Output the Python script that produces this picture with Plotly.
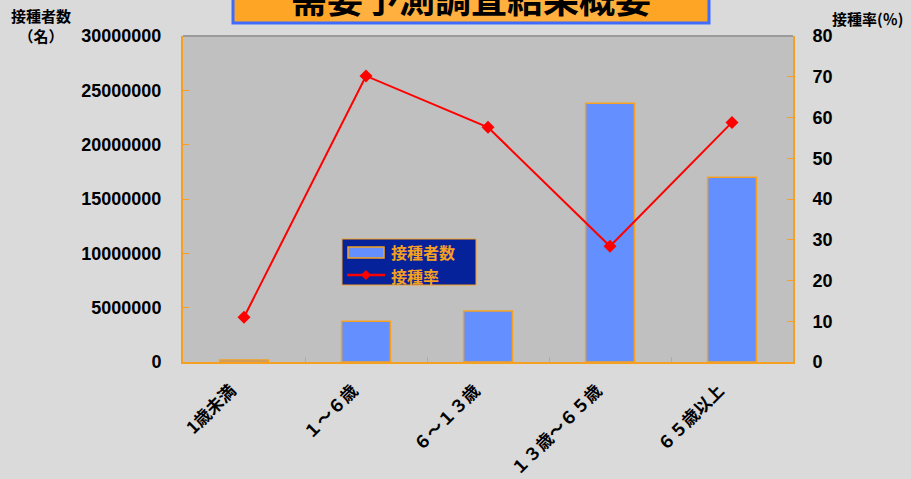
import plotly.graph_objects as go

# Survey summary: number of vaccinated persons by age group and vaccination rate
categories = ["1歳未満", "１～６歳", "６～１３歳", "１３歳～６５歳", "６５歳以上"]
persons = [180000, 3750000, 4700000, 23800000, 17000000]
rate = [11.0, 70.2, 57.6, 28.4, 58.8]

left_ticks = [0, 5000000, 10000000, 15000000, 20000000, 25000000, 30000000]
right_ticks = [0, 10, 20, 30, 40, 50, 60, 70, 80]

JP = "Noto Sans CJK JP"
NUM = "Liberation Sans"
ORANGE = "#F5A020"
BAR_BLUE = "#6490FF"
LINE_RED = "#FF0000"

# plotting-area geometry in pixels (used to place the overlay decorations)
PX_L, PX_R, PX_T, PX_B = 183, 793, 36, 362
W, H = PX_R - PX_L, PX_B - PX_T


def px(x):
    return (x - PX_L) / W


def py(y):
    return (PX_B - y) / H


fig = go.Figure()
fig.add_trace(go.Bar(
    x=categories, y=persons, name="接種者数",
    marker=dict(color=BAR_BLUE, line=dict(color=ORANGE, width=1.5)),
    yaxis="y",
))
fig.add_trace(go.Scatter(
    x=categories, y=rate, name="接種率", mode="lines+markers",
    line=dict(color=LINE_RED, width=2),
    marker=dict(symbol="diamond", size=10, color=LINE_RED),
    yaxis="y2",
))

fig.update_layout(
    width=911, height=479,
    margin=dict(l=PX_L, r=911 - PX_R, t=PX_T, b=479 - PX_B, autoexpand=False),
    paper_bgcolor="#DADADA",
    plot_bgcolor="#C0C0C0",
    bargap=0.6,
    font=dict(family=JP, color="#000000", size=14),
    showlegend=False,
    xaxis=dict(
        type="category", tickangle=-45, showgrid=False, automargin=False,
        showline=True, linecolor=ORANGE, linewidth=2,
        ticks="inside", tickson="boundaries", ticklen=5, tickcolor=ORANGE,
        tickfont=dict(family=JP, size=17, weight="bold"),
        ticklabelshift=-13, ticklabelstandoff=10,
    ),
    yaxis=dict(
        range=[0, 30000000], tickvals=left_ticks, automargin=False,
        ticktext=[str(v) for v in left_ticks],
        showgrid=False, zeroline=False,
        showline=True, linecolor=ORANGE, linewidth=2,
        ticks="inside", ticklen=6, tickcolor=ORANGE,
        tickfont=dict(family=NUM, size=18, weight="bold"),
        ticklabelstandoff=16,
    ),
    yaxis2=dict(
        range=[0, 80], tickvals=right_ticks, overlaying="y", side="right",
        automargin=False, showgrid=False, zeroline=False,
        showline=True, linecolor=ORANGE, linewidth=2,
        ticks="inside", ticklen=6, tickcolor=ORANGE,
        tickfont=dict(family=NUM, size=18, weight="bold"),
        ticklabelstandoff=14,
    ),
)

# top border of the plotting area
fig.add_shape(type="line", xref="paper", yref="paper", x0=0, x1=1, y0=1, y1=1,
              line=dict(color="#9A9A9A", width=2))

# title banner
fig.add_shape(type="rect", xref="paper", yref="paper",
              x0=px(233), x1=px(709), y0=py(23), y1=py(-30),
              fillcolor="#FFA526", line=dict(color="#3F6CFF", width=3), layer="above")
fig.add_shape(type="rect", xref="paper", yref="paper",
              x0=px(330), x1=px(620), y0=py(21), y1=py(-30),
              fillcolor="#FFB850", line=dict(width=0), opacity=0.6, layer="above")
fig.add_annotation(text="需要予測調査結果概要", xref="paper", yref="paper",
                   x=px(471), y=py(-3), xanchor="center", yanchor="middle",
                   showarrow=False,
                   font=dict(family=JP, size=36, color="#000000", weight="bold"))

# legend panel
fig.add_shape(type="rect", xref="paper", yref="paper",
              x0=px(342), x1=px(476), y0=py(285), y1=py(239),
              fillcolor="#06229A", line=dict(color=ORANGE, width=1), layer="above")
fig.add_shape(type="rect", xref="paper", yref="paper",
              x0=px(348), x1=px(384), y0=py(258), y1=py(247),
              fillcolor=BAR_BLUE, line=dict(color=ORANGE, width=1.5), layer="above")
fig.add_shape(type="line", xref="paper", yref="paper",
              x0=px(347), x1=px(385), y0=py(275), y1=py(275),
              line=dict(color=LINE_RED, width=2.5), layer="above")
fig.add_shape(type="path", xref="paper", yref="paper", layer="above",
              path=(f"M {px(366)},{py(270)} L {px(371)},{py(275)} "
                    f"L {px(366)},{py(280)} L {px(361)},{py(275)} Z"),
              fillcolor=LINE_RED, line=dict(color=LINE_RED, width=0))
for label, yc in [("接種者数", 252), ("接種率", 276)]:
    fig.add_annotation(text=label, xref="paper", yref="paper",
                       x=px(390), y=py(yc), xanchor="left", yanchor="middle",
                       showarrow=False, borderpad=0,
                       font=dict(family=JP, size=16, color=ORANGE, weight="bold"))

# axis titles
fig.add_annotation(text="接種者数<br>（名）", xref="paper", yref="paper",
                   x=px(41), y=py(26), xanchor="center", yanchor="middle",
                   align="center", showarrow=False,
                   font=dict(family=JP, size=15, color="#000000", weight="bold"))
fig.add_annotation(text="接種率(％)", xref="paper", yref="paper",
                   x=px(867), y=py(18), xanchor="center", yanchor="middle",
                   showarrow=False,
                   font=dict(family=JP, size=15, color="#000000", weight="bold"))

fig.write_html("out.html")
